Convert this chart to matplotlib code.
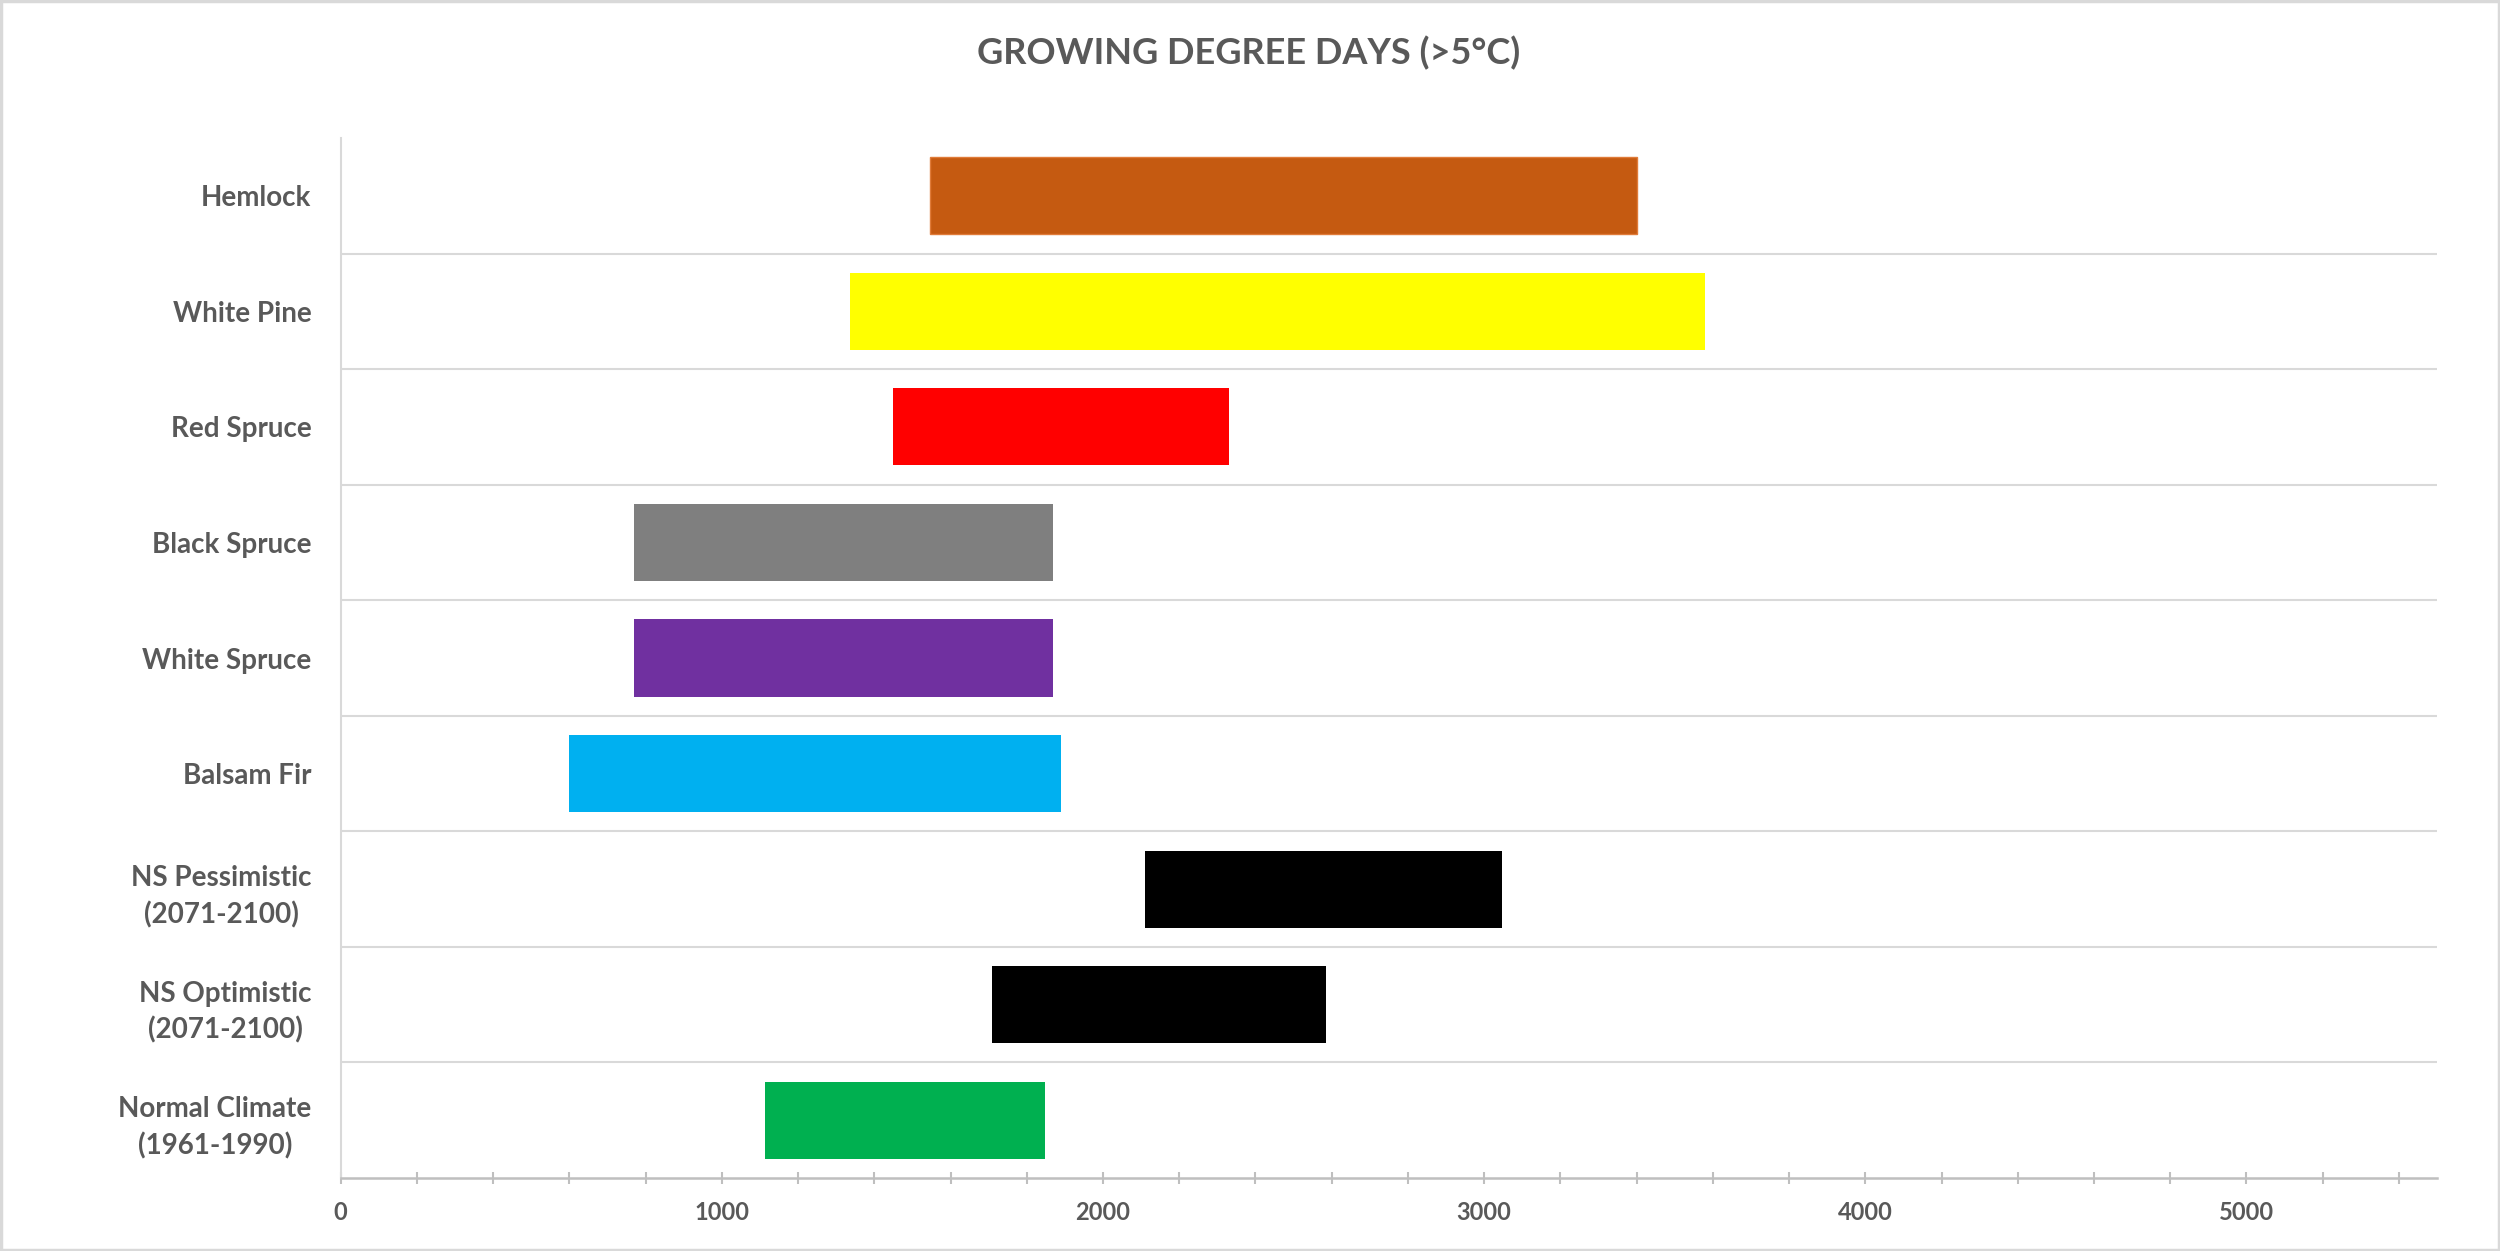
import matplotlib
matplotlib.use("Agg")
import matplotlib.pyplot as plt
from matplotlib.patches import Rectangle
from matplotlib.ticker import MultipleLocator

categories = ["Hemlock", "White Pine", "Red Spruce", "Black Spruce", "White Spruce",
              "Balsam Fir", "NS Pessimistic\n(2071-2100)", "NS Optimistic\n(2071-2100)",
              "Normal Climate\n(1961-1990)"]
range_start = [1545, 1335, 1448, 770, 770, 600, 2110, 1710, 1112]
range_end = [3400, 3580, 2330, 1870, 1870, 1890, 3048, 2585, 1848]
bar_colors = ["#C55A11", "#FFFF00", "#FF0000", "#7F7F7F", "#7030A0",
              "#00B0F0", "#000000", "#000000", "#00B050"]
x_ticks = [0, 1000, 2000, 3000, 4000, 5000]
title = "GROWING DEGREE DAYS (>5°C)"

plt.rcParams['font.family'] = ['Lato', 'DejaVu Sans']
text_color = "#595959"

fig = plt.figure(figsize=(25, 12.51), dpi=100)
ax = fig.add_axes([340.7 / 2500, 73 / 1251, (2437 - 340.7) / 2500, (1178 - 138) / 1251])

ypos = list(range(len(categories)))
widths = [e - s for s, e in zip(range_start, range_end)]
bars = ax.barh(ypos, widths, left=range_start, height=0.667, color=bar_colors, zorder=3)
bars[0].set_edgecolor("#E07B39")
bars[0].set_linewidth(1.0)

ax.set_xlim(0, 5500)
ax.set_ylim(len(categories) - 0.5, -0.5)

ax.set_xticks(x_ticks)
ax.set_xticklabels([str(v) for v in x_ticks])
ax.xaxis.set_minor_locator(MultipleLocator(200))
ax.tick_params(axis='x', which='both', direction='inout', length=9, width=1.5,
               color="#BFBFBF", labelsize=17, labelcolor=text_color, pad=12)
for lbl in ax.get_xticklabels():
    lbl.set_fontweight('bold')

ax.set_yticks(ypos)
ax.set_yticklabels(categories, fontsize=20, fontweight='bold', color=text_color,
                   linespacing=1.45, multialignment='center')
ax.tick_params(axis='y', which='both', length=0, pad=21)
ax.set_yticks([i + 0.5 for i in range(len(categories) - 1)], minor=True)
ax.grid(axis='y', which='minor', color="#D9D9D9", linewidth=1.5, zorder=0)
ax.grid(axis='y', which='major', visible=False)
ax.grid(axis='x', visible=False)

for side in ['top', 'right']:
    ax.spines[side].set_visible(False)
ax.spines['left'].set_color("#D9D9D9")
ax.spines['left'].set_linewidth(1.5)
ax.spines['bottom'].set_color("#BFBFBF")
ax.spines['bottom'].set_linewidth(1.8)

fig.text(0.4996, 1 - 53 / 1251, title, ha='center', va='center', fontsize=26,
         fontweight='bold', color=text_color)

fig.patches.append(Rectangle((0.0005, 0.001), 0.999, 0.998, transform=fig.transFigure,
                             fill=False, edgecolor="#D9D9D9", linewidth=2.5))

fig.savefig("out.png", dpi=100, facecolor="white")
